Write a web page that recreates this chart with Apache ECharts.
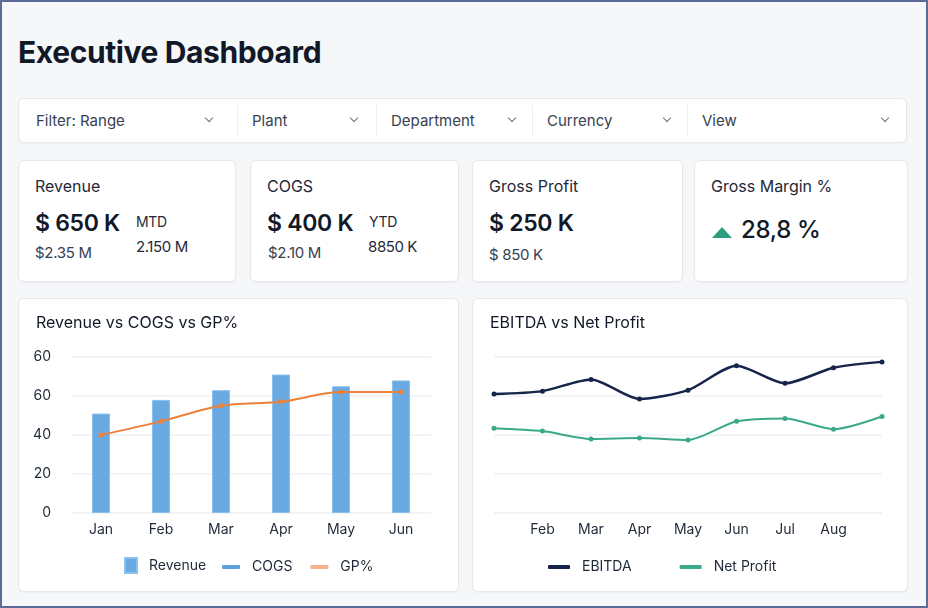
<!DOCTYPE html>
<html>
<head>
<meta charset="utf-8">
<script src="https://cdn.jsdelivr.net/npm/echarts@6.0.0/dist/echarts.min.js"></script>
<style>
  *{box-sizing:border-box}
  html,body{margin:0;padding:0}
  body{width:928px;height:608px;overflow:hidden;font-family:Inter,"Noto Sans",sans-serif;color:#111827}
  #page{position:absolute;left:0;top:0;width:928px;height:608px;background:#f6f7f9;border:2px solid #5b6a96}
  h1{position:absolute;left:16px;top:32px;margin:0;font-size:30px;font-weight:700;letter-spacing:-0.4px;color:#111827}
  .box{position:absolute;background:#fff;border:1px solid #e6e8ec;border-radius:6px;box-shadow:0 1px 2px rgba(0,0,0,0.04)}
  #filters{left:16px;top:96px;width:889px;height:45px}
  .flt{position:absolute;top:0;height:43px;line-height:43px;font-size:15px;color:#374151}
  .flt i{position:absolute;top:16px;width:6px;height:6px;border-right:1.3px solid #6b7280;border-bottom:1.3px solid #6b7280;transform:rotate(45deg)}
  .sep{position:absolute;top:6px;width:1px;height:31px;background:#eceef1}
  .kpi .t{position:absolute;left:16px;top:15px;font-size:16px;color:#1f2937}
  .kpi .v{position:absolute;left:16px;top:48px;font-size:23px;font-weight:600;color:#111827;letter-spacing:-0.3px}
  .kpi .s{position:absolute;left:16px;top:82px;font-size:15px;color:#374151;letter-spacing:-0.3px}
  .kpi .m{position:absolute;top:52px;font-size:14px;color:#1f2937;letter-spacing:-0.3px}
  .kpi .n{position:absolute;top:76px;font-size:15px;color:#1f2937;letter-spacing:-0.4px}
  .tri{position:absolute;left:17px;top:66px;width:0;height:0;border-left:10px solid transparent;border-right:10px solid transparent;border-bottom:11px solid #2e9e80}
  .chart{position:absolute;left:0;top:0;width:100%;height:100%}
</style>
</head>
<body>
<div id="page">
  <h1>Executive Dashboard</h1>

  <div class="box" id="filters"></div>

  <div class="box kpi" style="left:16px;top:158px;width:218px;height:122px">
    <div class="t">Revenue</div>
    <div class="v">$ 650 K</div>
    <div class="s">$2.35 M</div>
    <div class="m" style="left:117px">MTD</div>
    <div class="n" style="left:117px">2.150 M</div>
  </div>
  <div class="box kpi" style="left:248px;top:158px;width:209px;height:122px">
    <div class="t">COGS</div>
    <div class="v">$ 400 K</div>
    <div class="s" style="left:17px">$2.10 M</div>
    <div class="m" style="left:118px">YTD</div>
    <div class="n" style="left:117px">8850 K</div>
  </div>
  <div class="box kpi" style="left:470px;top:158px;width:211px;height:122px">
    <div class="t">Gross Profit</div>
    <div class="v">$ 250 K</div>
    <div class="s" style="top:84px">$ 850 K</div>
  </div>
  <div class="box kpi" style="left:692px;top:158px;width:214px;height:122px">
    <div class="t">Gross Margin %</div>
    <div class="tri"></div>
    <div class="v" style="left:46px;top:54px;font-size:24px;font-weight:500">28,8 %</div>
  </div>

  <div class="box" style="left:16px;top:296px;width:441px;height:294px"><div class="chart" id="left"></div></div>
  <div class="box" style="left:470px;top:296px;width:436px;height:294px"><div class="chart" id="right"></div></div>
</div>

<script>
//筛选栏
let filterNames=['Filter: Range','Plant','Department','Currency','View']
let filterLeft=[17,233,372,528,683]
let filterChevron=[187,332,490,645,863]
let html=''
filterNames.map((name,i)=>{
  html+=`<div class="flt" style="left:${filterLeft[i]}px">${name}</div>`
  html+=`<div class="flt" style="left:${filterChevron[i]}px"><i></i></div>`
  if(i>0) html+=`<div class="sep" style="left:${filterLeft[i]-15}px"></div>`
})
document.getElementById("filters").innerHTML=html

//图表数据
let months=['Jan','Feb','Mar','Apr','May','Jun']
let revenue=[51,58,63,71,65,68]
let cogs=[]
let gp=[40,47,55,57,62,62]
let leftTicks=['0','20','40','60','60']

let months2=['','Feb','Mar','Apr','May','Jun','Jul','Aug','']
let ebitda=[61,62.5,68.5,58.5,63,75.5,66.5,74.5,77.5]
let netProfit=[43.5,42,38,38.5,37.5,47,48.5,43,49.5]

let fontName='Inter'

function renderLeft(){
  var myChart = echarts.init(document.getElementById('left'))
  option = {
    textStyle:{fontFamily:fontName},
    title:{
      text:'Revenue vs COGS vs GP%',
      left:12, top:11,
      textStyle:{fontSize:16,fontWeight:'normal',color:'#111827',fontFamily:fontName}
    },
    grid:{left:52,right:27,top:58,bottom:78},
    legend:[
      {
        data:[{name:'Revenue',icon:'rect'}],
        left:100, top:253,
        itemWidth:12, itemHeight:15,
        textStyle:{fontSize:14,color:'#1f2937',padding:[0,0,0,7]}
      },
      {
        data:[
          {name:'COGS',icon:'roundRect',itemStyle:{color:'#5b9fdf'}},
          {name:'GP%',icon:'roundRect',itemStyle:{color:'#f5b58a'}}
        ],
        left:198, top:256,
        itemWidth:18, itemHeight:4, itemGap:18,
        textStyle:{fontSize:14,color:'#1f2937',padding:[0,0,0,7]}
      }
    ],
    xAxis:{
      type:'category',
      data:months,
      axisLine:{show:false},
      axisTick:{show:false},
      axisLabel:{fontSize:14,color:'#1f2937',margin:10}
    },
    yAxis:{
      type:'value',
      min:0, max:80, interval:20,
      axisLabel:{
        fontSize:14, color:'#1f2937', margin:20,
        formatter:v=>leftTicks[Math.round(v/20)]
      },
      splitLine:{lineStyle:{color:'#eef0f3',width:1.5}}
    },
    series:[
      {
        name:'Revenue',
        type:'bar',
        data:revenue,
        barWidth:18,
        itemStyle:{color:'#6aaae3',borderColor:'#8cc0ee',borderWidth:1}
      },
      {
        name:'COGS',
        type:'line',
        data:cogs,
        itemStyle:{color:'#5b9fdf'}
      },
      {
        name:'GP%',
        type:'line',
        data:gp,
        smooth:0.3,
        symbol:'circle',
        symbolSize:5,
        itemStyle:{color:'#ec8138'},
        lineStyle:{color:'#ec8138',width:2}
      }
    ]
  }
  myChart.setOption(option)
}

function renderRight(){
  var myChart = echarts.init(document.getElementById('right'))
  option = {
    textStyle:{fontFamily:fontName},
    title:{
      text:'EBITDA vs Net Profit',
      left:12, top:11,
      textStyle:{fontSize:16,fontWeight:'normal',color:'#111827',fontFamily:fontName}
    },
    grid:{left:21,right:25,top:58,bottom:78},
    legend:{
      data:['EBITDA','Net Profit'],
      icon:'roundRect',
      left:70, top:256,
      itemWidth:22, itemHeight:4, itemGap:48,
      textStyle:{fontSize:14,color:'#1f2937',padding:[0,0,0,7]}
    },
    xAxis:{
      type:'category',
      data:months2,
      boundaryGap:false,
      axisLine:{show:false},
      axisTick:{show:false},
      axisLabel:{fontSize:14,color:'#1f2937',margin:10}
    },
    yAxis:{
      type:'value',
      min:0, max:80, interval:20,
      axisLabel:{show:false},
      splitLine:{lineStyle:{color:'#eef0f3',width:1.5}}
    },
    series:[
      {
        name:'EBITDA',
        type:'line',
        data:ebitda,
        smooth:0.25,
        symbol:'circle',
        symbolSize:5,
        itemStyle:{color:'#16234b'},
        lineStyle:{color:'#16234b',width:2.5}
      },
      {
        name:'Net Profit',
        type:'line',
        data:netProfit,
        smooth:0.25,
        symbol:'circle',
        symbolSize:5,
        itemStyle:{color:'#3aa98a'},
        lineStyle:{color:'#3aa98a',width:2}
      }
    ]
  }
  myChart.setOption(option)
}

renderLeft()
renderRight()
</script>
</body>
</html>
